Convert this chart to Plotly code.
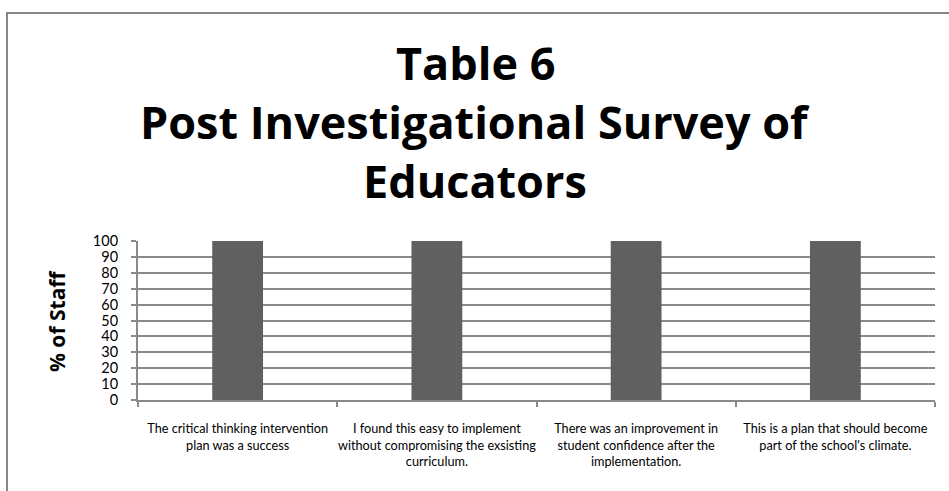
import plotly.graph_objects as go

categories = [
    "The critical thinking intervention<br>plan was a success",
    "I found this easy to implement<br>without compromising the exsisting<br>curriculum.",
    "There was an improvement in<br>student confidence after the<br>implementation.",
    "This is a plan that should become<br>part of the school's climate.",
]
values = [100, 100, 100, 100]
y_ticks = list(range(0, 101, 10))
title_lines = ["Table 6", "Post Investigational Survey of", "Educators"]

W, H = 949, 491
L, R, T, B = 138, 14, 241, 91
pw, ph = W - L - R, H - T - B

def px_x(x):
    return (x - L) / pw

def px_y(y):
    return (H - B - y) / ph

FONT = "Lato"
TFONT = "Open Sans"
GRID = "#8a8a8a"

fig = go.Figure()
fig.add_trace(go.Bar(
    x=categories, y=values, width=0.255,
    marker=dict(color="#606060", line=dict(width=0)),
    hoverinfo="skip",
))

fig.update_layout(
    width=W, height=H,
    margin=dict(l=L, r=R, t=T, b=B, pad=0),
    paper_bgcolor="white", plot_bgcolor="white",
    showlegend=False,
    font=dict(family=FONT, color="black"),
)

fig.update_xaxes(
    type="category",
    showgrid=False,
    showline=True, linecolor=GRID, linewidth=2,
    ticks="outside", tickson="boundaries", ticklen=5, tickcolor=GRID, tickwidth=2,
    tickfont=dict(family=FONT, size=12.7, color="black"),
    tickangle=0,
    ticklabelstandoff=16,
    automargin=False,
)
fig.update_yaxes(
    range=[0, 100],
    tickvals=y_ticks,
    showgrid=True, gridcolor=GRID, gridwidth=2,
    showline=True, linecolor=GRID, linewidth=2,
    ticks="outside", ticklen=5, tickcolor=GRID, tickwidth=2,
    tickfont=dict(family=FONT, size=14.5, color="black"),
    ticklabelstandoff=10,
    zeroline=False,
    automargin=False,
)

# title, one annotation per line for exact line spacing
title_centers = [63, 122, 180]
for line, yc in zip(title_lines, title_centers):
    fig.add_annotation(
        text="<b>%s</b>" % line,
        xref="paper", yref="paper", x=px_x(475), y=px_y(yc),
        xanchor="center", yanchor="middle", showarrow=False,
        font=dict(family=TFONT, size=45, color="black"),
    )

fig.add_annotation(
    text="<b>% of Staff</b>", textangle=-90,
    xref="paper", yref="paper", x=px_x(57), y=px_y(321),
    xanchor="center", yanchor="middle", showarrow=False,
    font=dict(family=TFONT, size=21, color="black"),
)

# chart border (extends past the right and bottom edges of the view)
fig.add_shape(
    type="rect", xref="paper", yref="paper",
    x0=px_x(7), x1=px_x(W + 20), y0=px_y(H + 20), y1=px_y(13),
    line=dict(color="#878787", width=2), fillcolor="rgba(0,0,0,0)",
    layer="below",
)

fig.write_html("out.html")
